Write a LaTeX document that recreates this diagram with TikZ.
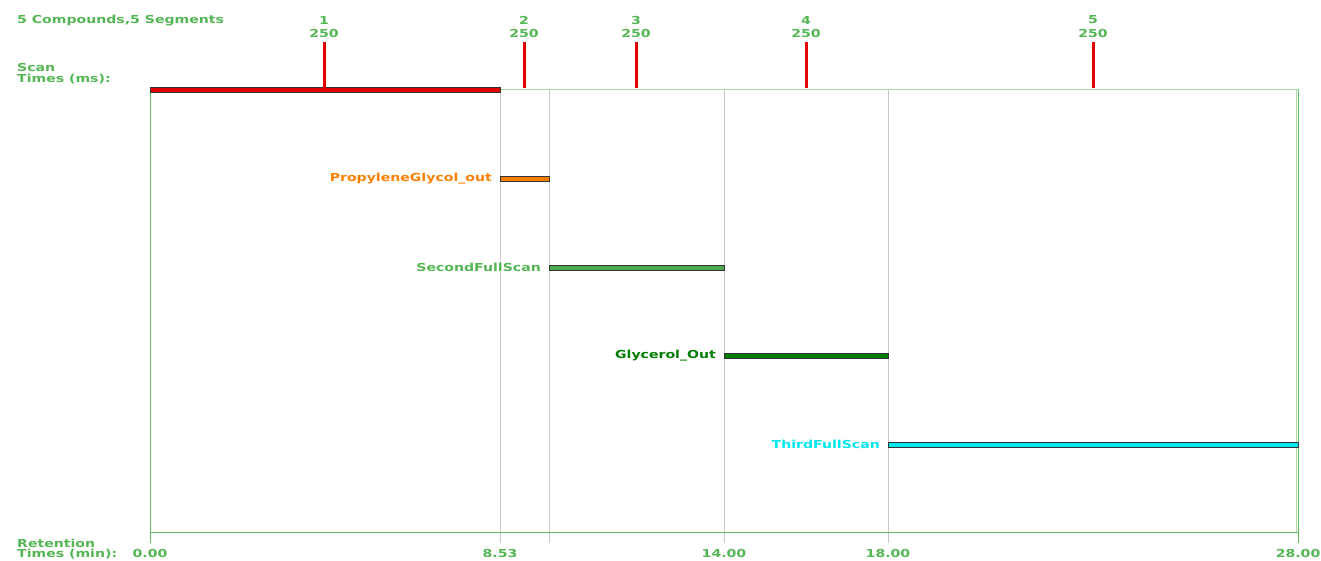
\documentclass[tikz,border=0pt]{standalone}
\usepackage{fontspec}
\newfontfamily\lblfont{DejaVu Sans}[FakeStretch=1.28]
\definecolor{txtgreen}{RGB}{84,182,84}
\definecolor{axgreen}{RGB}{96,190,96}
\definecolor{topgreen}{RGB}{170,220,170}
\definecolor{gridgray}{RGB}{200,200,200}
\definecolor{barred}{RGB}{225,0,0}
\definecolor{barorange}{RGB}{255,128,0}
\definecolor{bargreen}{RGB}{76,170,76}
\definecolor{bardark}{RGB}{0,125,0}
\definecolor{barcyan}{RGB}{0,230,238}
\begin{document}
\begin{tikzpicture}[x=1pt,y=-1pt,
  lbl/.style={font=\lblfont\bfseries\fontsize{11}{12}\selectfont, inner sep=0pt, text=txtgreen},
  seglbl/.style={lbl, anchor=east},
  redtick/.style={barred, line width=3pt},
  gridline/.style={gridgray, line width=1pt},
  segbar/.style={draw=black!80, line width=0.8pt}]
\useasboundingbox (0,0) rectangle (1321,560);
\fill[white] (0,0) rectangle (1321,560);
% title
\node[lbl, anchor=west] (title) at (17,21) {5 Compounds,5 Segments};
\node[lbl, anchor=west] (scan) at (17,67.5) {Scan};
\node[lbl, anchor=west] (times) at (17,79.5) {Times (ms):};
% grid lines
\foreach \x in {500,549,724,888} {\draw[gridline] (\x,89) -- (\x,543);}
% frame
\draw[topgreen, line width=1pt] (150,89) -- (1298,89);
\draw[axgreen, line width=1pt] (150,89) -- (150,543);
\draw[axgreen, line width=1pt] (150,532) -- (1298,532);
\draw[topgreen, line width=1pt] (1296,89) -- (1296,532);
\draw[axgreen, line width=1pt] (1298,89) -- (1298,543);
% segment 1 top bar
\draw[segbar, fill=barred] (150,87) rectangle (500,92);
% red ticks and labels
\foreach \x/\n in {324/1,524/2,636/3,806/4,1093/5} {
  \draw[redtick] (\x,42) -- (\x,88);
  \node[lbl] (n\n) at (\x,20) {\n};
  \node[lbl] (t\n) at (\x,33) {250};
}
% segment bars
\draw[segbar, fill=barorange] (500,176) rectangle (549,181);
\node[seglbl, text=barorange] (pg) at (492,179) {PropyleneGlycol\_out};
\draw[segbar, fill=bargreen] (549,265) rectangle (724,270);
\node[seglbl] (sfs) at (541,267) {SecondFullScan};
\draw[segbar, fill=bardark] (724,353) rectangle (888,358);
\node[seglbl, text=bardark] (go) at (716,356) {Glycerol\_Out};
\draw[segbar, fill=barcyan] (888,442) rectangle (1298,447);
\node[seglbl, text=barcyan] (tfs) at (880,444) {ThirdFullScan};
% bottom labels
\node[lbl, anchor=west] (ret) at (17,543) {Retention};
\node[lbl, anchor=west] (rtimes) at (17,554) {Times (min):};
\foreach \x/\v/\k in {150/0.00/a,500/8.53/b,724/14.00/c,888/18.00/d,1298/28.00/e} {
  \node[lbl] (rt\k) at (\x,553) {\v};
}
\end{tikzpicture}
\end{document}
